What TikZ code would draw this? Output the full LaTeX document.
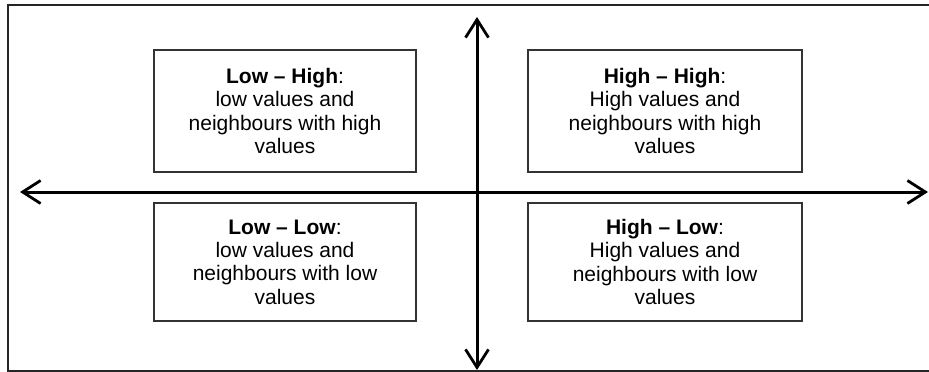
\documentclass[tikz,border=0pt]{standalone}
\usepackage{fontspec}
\setmainfont{Liberation Sans}
\usetikzlibrary{positioning, arrows.meta}
\tikzset{
  quadrant/.style={rectangle, draw=black!80, line width=1.1pt, align=center, inner sep=0pt, font=\fontsize{21}{23.4}\selectfont},
  axis/.style={line width=3pt, {Straight Barb[length=18pt,width=23pt,line width=2.8pt]}-{Straight Barb[length=18pt,width=23pt,line width=2.8pt]}}
}

\begin{document}
\begin{tikzpicture}[x=1pt, y=-1pt]

    % Bildrand
    \useasboundingbox (0,0) rectangle (929,372);
    \clip (0,0) rectangle (929,372);
    \draw[line width=1.8pt, black!85] (8,5) rectangle (945,371);

    % Achsen
    \coordinate (west) at (20,192);
    \coordinate (east) at (928,192);
    \coordinate (north) at (477,17);
    \coordinate (south) at (477,370);
    \draw[axis] (west) -- (east);
    \draw[axis] (north) -- (south);

    % Quadranten
    \node[quadrant, minimum width=262pt, minimum height=122pt] (lowhigh) at (285,111)
        {\textbf{Low -- High}:\\low values and\\neighbours with high\\values};
    \node[quadrant, minimum width=274pt, minimum height=122pt] (highhigh) at (665,111)
        {\textbf{High -- High}:\\High values and\\neighbours with high\\values};
    \node[quadrant, minimum width=262pt, minimum height=118pt] (lowlow) at (285,262)
        {\textbf{Low -- Low}:\\low values and\\neighbours with low\\values};
    \node[quadrant, minimum width=274pt, minimum height=118pt] (highlow) at (665,262)
        {\textbf{High -- Low}:\\High values and\\neighbours with low\\values};

\end{tikzpicture}
\end{document}
